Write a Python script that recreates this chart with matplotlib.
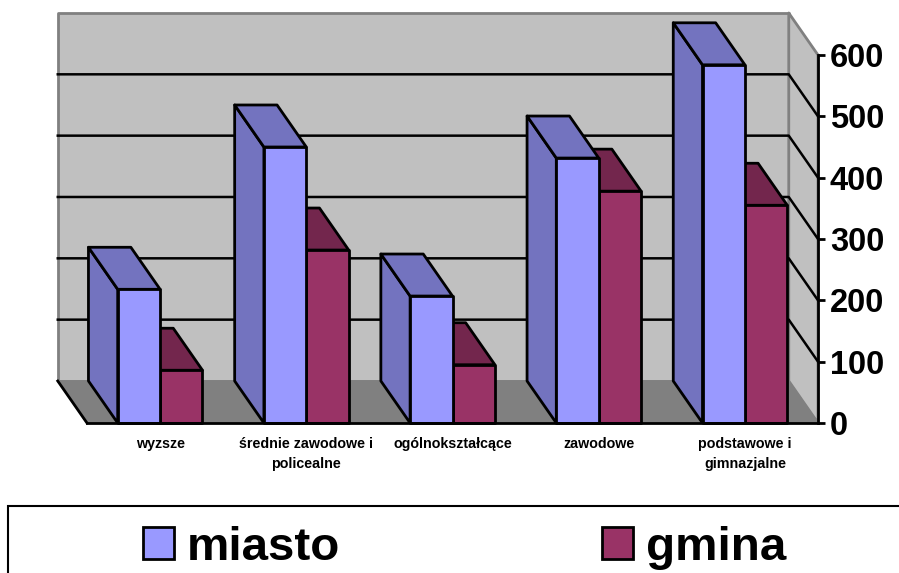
import matplotlib
matplotlib.use("Agg")
import matplotlib.pyplot as plt
from matplotlib.patches import Patch, Rectangle

plt.rcParams['font.family'] = ['Liberation Sans', 'DejaVu Sans']
plt.rcParams['font.weight'] = 'bold'

categories = ['wyzsze', 'średnie zawodowe i\npolicealne', 'ogólnokształcące',
              'zawodowe', 'podstawowe i\ngimnazjalne']
miasto = [218, 450, 207, 432, 584]
gmina = [86, 282, 95, 378, 355]
yticks = [0, 100, 200, 300, 400, 500, 600]

W, H = 899, 573
# depth of the fake 3D box in data units (category, value)
dx, dy = -0.2, 68.5
bw = 0.29


def poly(ax, xs, ys, fc, ec='black', lw=2, z=1):
    ax.fill(xs, ys, facecolor=fc, edgecolor=ec, linewidth=lw, zorder=z,
            clip_on=False, joinstyle='round')


def bar3d(ax, x0, x1, v, front, shade, z):
    poly(ax, [x0, x0 + dx, x0 + dx, x0], [0, dy, v + dy, v], shade, z=z)
    poly(ax, [x0, x1, x1 + dx, x0 + dx], [v, v, v + dy, v + dy], shade, z=z)
    poly(ax, [x0, x1, x1, x0], [0, 0, v, v], front, z=z)


fig = plt.figure(figsize=(W / 100, H / 100), dpi=100)
ax = fig.add_axes([87 / W, 1 - 423 / H, 731 / W, 368 / H])
ax.set_xlim(0, 5)
ax.set_ylim(0, 600)
ax.patch.set_visible(False)

# walls and floor
poly(ax, [dx, 5 + dx, 5 + dx, dx], [dy, dy, 600 + dy, 600 + dy], '#C0C0C0', '#808080', 2, 0.1)
poly(ax, [5 + dx, 5, 5, 5 + dx], [dy, 0, 600, 600 + dy], '#C0C0C0', '#808080', 2, 0.1)
poly(ax, [0, 5, 5 + dx, dx], [0, 0, dy, dy], '#808080', '#808080', 1, 0.2)
ax.plot([dx, 0], [dy, 0], color='black', lw=2, zorder=0.3, clip_on=False)

for t in yticks[1:-1]:
    ax.plot([dx, 5 + dx, 5], [t + dy, t + dy, t], color='black', lw=1.8,
            zorder=0.4, clip_on=False)

for i in range(len(categories)):
    c = i + 0.5
    bar3d(ax, c, c + bw, gmina[i], '#993366', '#73264D', 1 + i * 0.1)
    bar3d(ax, c - bw, c, miasto[i], '#9999FF', '#7373BF', 1.05 + i * 0.1)

ax.spines['left'].set_visible(False)
ax.spines['top'].set_visible(False)
ax.spines['right'].set_linewidth(2)
ax.spines['bottom'].set_linewidth(2)
ax.spines['right'].set_zorder(3)
ax.spines['bottom'].set_zorder(3)

ax.yaxis.tick_right()
ax.set_yticks(yticks)
ax.tick_params(axis='y', length=5, width=2, pad=3.5, labelsize=23.5)
ax.set_xticks([i + 0.5 for i in range(len(categories))])
ax.set_xticklabels(categories, fontsize=10.3, linespacing=1.55)
ax.tick_params(axis='x', length=0, pad=10)

# legend box runs off the page on the right and bottom
fig.add_artist(Rectangle((8 / W, -0.05), 1, 1 - 506 / H + 0.05, transform=fig.transFigure,
                         facecolor='white', edgecolor='black', linewidth=1.5))
handles = [Patch(facecolor='#9999FF', edgecolor='black', linewidth=2),
           Patch(facecolor='#993366', edgecolor='black', linewidth=2)]
fig.legend(handles, ['miasto', 'gmina'], ncol=2, frameon=False, fontsize=34.2,
           loc='center left', bbox_to_anchor=(143 / W, 1 - 548 / H), borderpad=0,
           borderaxespad=0, handlelength=0.65, handleheight=0.65, handletextpad=0.28,
           columnspacing=5.5)

fig.savefig('out.png', dpi=100)
